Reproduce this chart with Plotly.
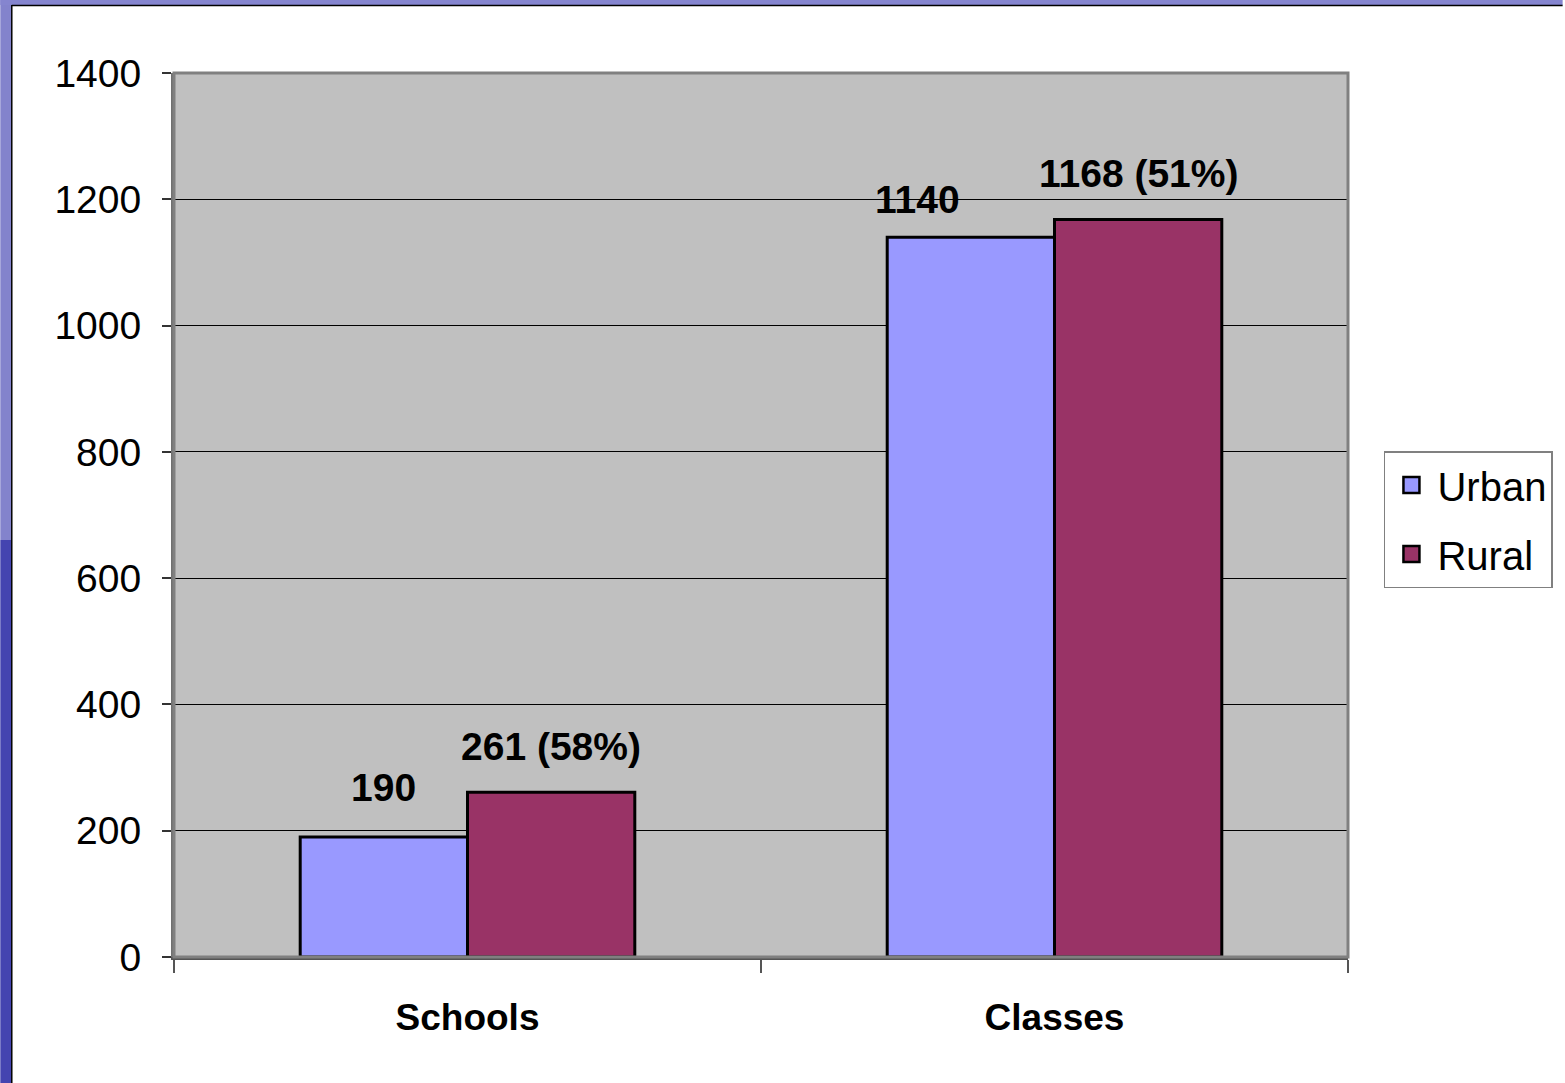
import plotly.graph_objects as go

categories = ["Schools", "Classes"]
urban = [190, 1140]
rural = [261, 1168]
urban_labels = ["190", "1140"]
rural_labels = ["261 (58%)", "1168 (51%)"]
series_names = ["Urban", "Rural"]
series_colors = ["#9999FF", "#993366"]
ytick_vals = [0, 200, 400, 600, 800, 1000, 1200, 1400]

W, H = 1565, 1083
ML, MR, MT, MB = 174, 215, 73, 126
PW = W - ML - MR
PH = H - MT - MB
BARGAP = 0.43
FONT = "Liberation Sans, Arial, sans-serif"

fig = go.Figure()
for name, vals, col in zip(series_names, [urban, rural], series_colors):
    fig.add_trace(go.Bar(x=categories, y=vals, name=name, showlegend=False,
                         marker=dict(color=col, line=dict(color="black", width=3))))
# legend entries with larger square swatches
for name, col in zip(series_names, series_colors):
    fig.add_trace(go.Scatter(x=[None], y=[None], mode="markers", name=name,
                             legendgroup=name,
                             marker=dict(symbol="square", size=20, color=col,
                                         line=dict(color="black", width=2.5))))

cat_px = PW / len(categories)
bar_px = cat_px * (1 - BARGAP) / 2
label_xshift_urban = [0, -53]
label_yshift_urban = [26, 14]

anns = []
for i, c in enumerate(categories):
    anns.append(dict(x=c, y=urban[i], xref="x", yref="y", text="<b>%s</b>" % urban_labels[i],
                     showarrow=False, xshift=-bar_px / 2 + label_xshift_urban[i],
                     yshift=label_yshift_urban[i], yanchor="bottom",
                     font=dict(family=FONT, size=39, color="black")))
    anns.append(dict(x=c, y=rural[i], xref="x", yref="y", text="<b>%s</b>" % rural_labels[i],
                     showarrow=False, xshift=bar_px / 2, yshift=22, yanchor="bottom",
                     font=dict(family=FONT, size=39, color="black")))

def px_x(p):
    return (p - ML) / PW

def px_y(p):
    return (H - MB - p) / PH

shapes = [
    dict(type="rect", xref="paper", yref="paper", x0=px_x(0), x1=px_x(11), y0=px_y(H), y1=px_y(540),
         fillcolor="#4444b0", line=dict(width=0), layer="below"),
    dict(type="rect", xref="paper", yref="paper", x0=px_x(0), x1=px_x(11), y0=px_y(540), y1=px_y(0),
         fillcolor="#8383cc", line=dict(width=0), layer="below"),
    dict(type="rect", xref="paper", yref="paper", x0=px_x(0), x1=px_x(W), y0=px_y(5), y1=px_y(0),
         fillcolor="#8585cf", line=dict(width=0), layer="below"),
    dict(type="line", xref="paper", yref="paper", x0=px_x(11.5), x1=px_x(11.5), y0=px_y(H), y1=px_y(5),
         line=dict(color="black", width=1.5)),
    dict(type="line", xref="paper", yref="paper", x0=px_x(11.5), x1=px_x(W), y0=px_y(5.5), y1=px_y(5.5),
         line=dict(color="black", width=1.5)),
    dict(type="rect", xref="paper", yref="paper", x0=0, x1=1, y0=0, y1=1,
         line=dict(color="#808080", width=3), layer="above"),
]

fig.update_layout(
    width=W, height=H,
    margin=dict(l=ML, r=MR, t=MT, b=MB, pad=0),
    paper_bgcolor="white",
    plot_bgcolor="#C0C0C0",
    barmode="group",
    bargap=BARGAP,
    bargroupgap=0,
    font=dict(family=FONT, size=36, color="black"),
    showlegend=True,
    legend=dict(x=px_x(1386), y=px_y(451), xanchor="left", yanchor="top",
                bgcolor="white", bordercolor="#808080", borderwidth=1.5,
                font=dict(family=FONT, size=40, color="black"),
                traceorder="grouped", tracegroupgap=14, itemwidth=42),
    annotations=anns,
    shapes=shapes,
)
fig.update_xaxes(
    type="category", tickson="boundaries", ticks="outside", ticklen=13, tickwidth=2,
    tickcolor="#555555", showline=True, linecolor="#555555", linewidth=2.5,
    showgrid=False, tickfont=dict(family=FONT, size=37, color="black"),
    tickprefix="<b>", ticksuffix="</b>", ticklabelstandoff=26,
)
fig.update_yaxes(
    range=[0, 1400], tickvals=ytick_vals, ticktext=[str(v) for v in ytick_vals],
    ticks="outside", ticklen=9, tickwidth=1.5, tickcolor="#333333",
    showline=True, linecolor="#707070", linewidth=3,
    showgrid=True, gridcolor="black", gridwidth=1, zeroline=False,
    tickfont=dict(family=FONT, size=39, color="black"), ticklabelstandoff=13,
)

fig.write_html("out.html", config={"displayModeBar": False},
               post_script="document.body.style.margin='0';document.body.style.overflow='hidden';")
